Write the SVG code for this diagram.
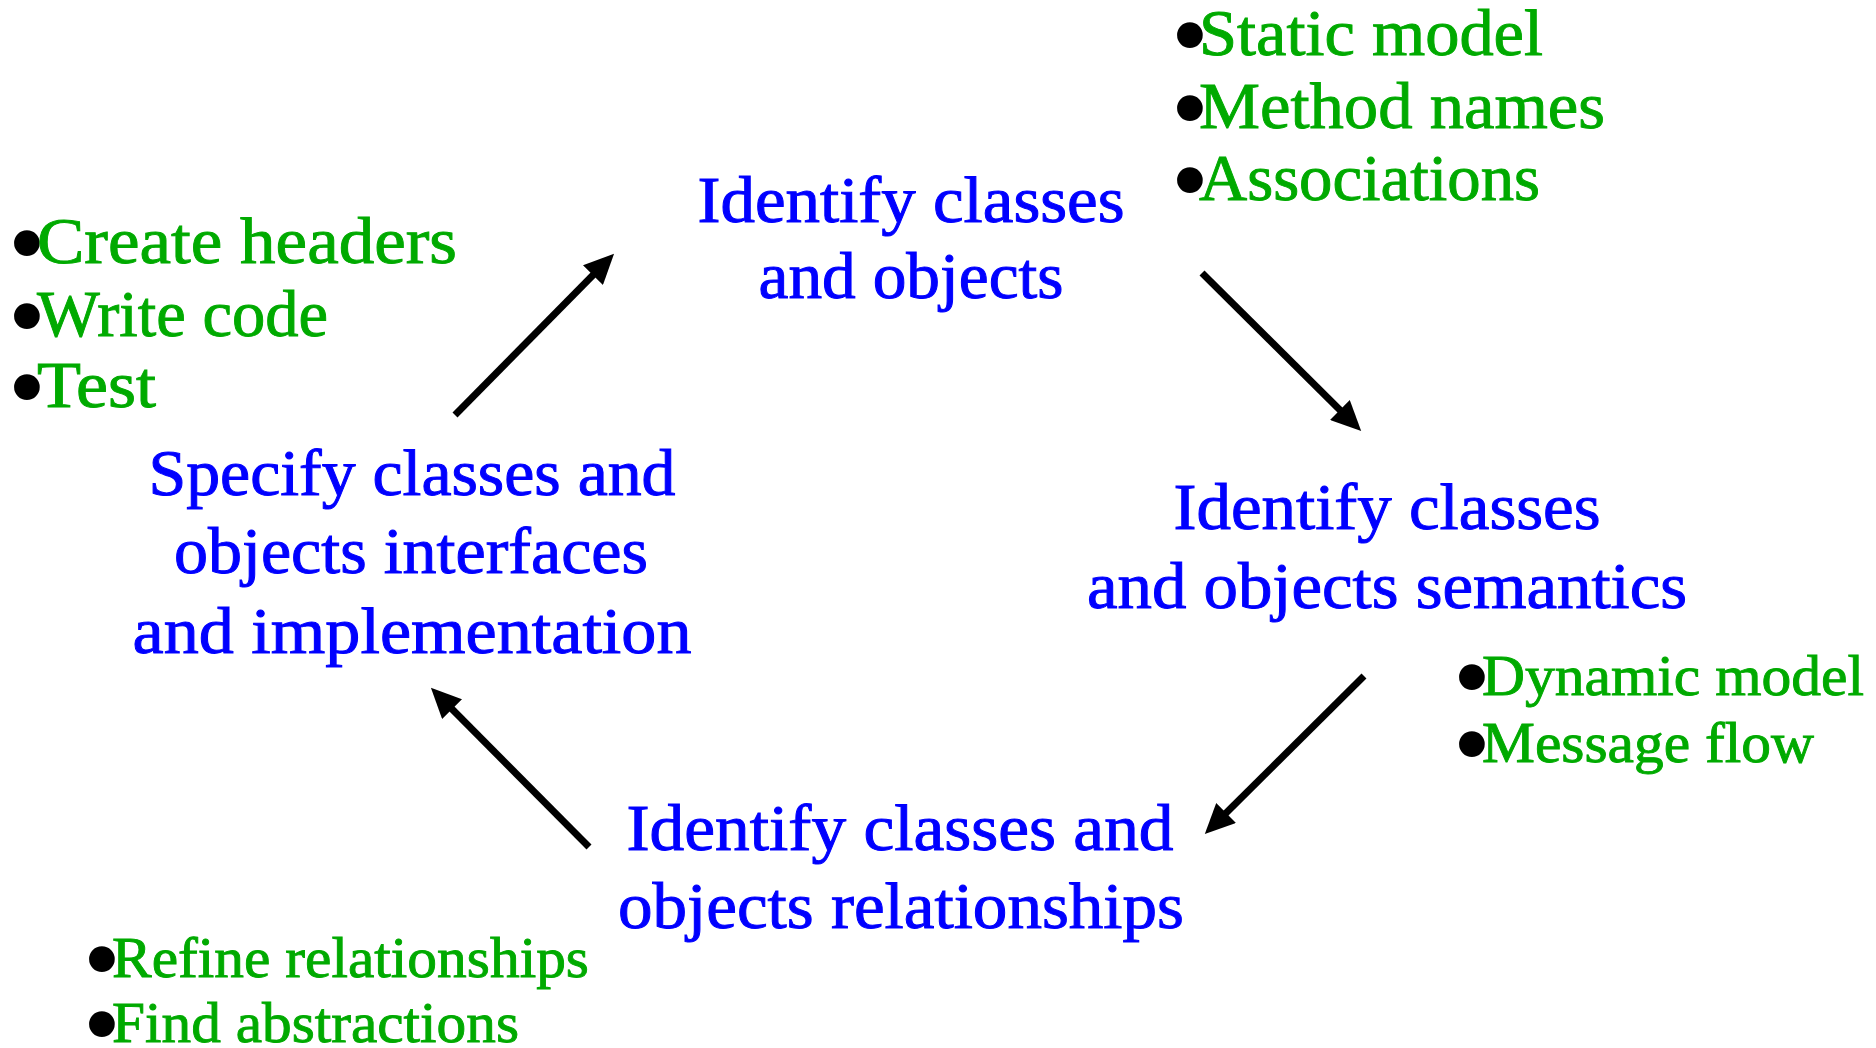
<svg xmlns="http://www.w3.org/2000/svg" width="1876" height="1048" viewBox="0 0 1876 1048">
<style>
.blue{font-family:"Liberation Serif","Times New Roman",serif;font-size:66px;fill:#0000ff;stroke:#0000ff;stroke-width:1;text-anchor:middle}
.green{font-family:"Liberation Serif","Times New Roman",serif;fill:#00aa00;stroke:#00aa00;stroke-width:0.9}
.g1{font-size:65px}
.g2{font-size:58px}
.bul{font-family:"Liberation Serif","Times New Roman",serif;fill:#000000;font-size:108px;text-anchor:middle}
.conn{stroke:#000000;stroke-width:7;fill:none;marker-end:url(#ah)}
</style>
<defs>
<marker id="ah" viewBox="0 0 30 28" refX="10" refY="14" markerWidth="30" markerHeight="28" markerUnits="userSpaceOnUse" orient="auto">
<path d="M0,0 L30,14 L0,28 z" fill="#000000"/>
</marker>
</defs>
<rect width="1876" height="1048" fill="#ffffff"/>
<g id="node-identify">
<text class="blue" x="911" y="222" textLength="427" lengthAdjust="spacingAndGlyphs">Identify classes</text>
<text class="blue" x="911" y="298" textLength="305" lengthAdjust="spacingAndGlyphs">and objects</text>
</g>
<g id="node-semantics">
<text class="blue" x="1387" y="529" textLength="427" lengthAdjust="spacingAndGlyphs">Identify classes</text>
<text class="blue" x="1387" y="608" textLength="600" lengthAdjust="spacingAndGlyphs">and objects semantics</text>
</g>
<g id="node-relationships">
<text class="blue" x="900" y="850" textLength="547" lengthAdjust="spacingAndGlyphs">Identify classes and</text>
<text class="blue" x="901" y="928" textLength="566" lengthAdjust="spacingAndGlyphs">objects relationships</text>
</g>
<g id="node-specify">
<text class="blue" x="412" y="495" textLength="527" lengthAdjust="spacingAndGlyphs">Specify classes and</text>
<text class="blue" x="411" y="573" textLength="474" lengthAdjust="spacingAndGlyphs">objects interfaces</text>
<text class="blue" x="412" y="653" textLength="559" lengthAdjust="spacingAndGlyphs">and implementation</text>
</g>
<g id="note-static">
<text class="bul" x="1190" y="71">•</text><text class="green g1" x="1199" y="55" textLength="344" lengthAdjust="spacingAndGlyphs">Static model</text>
<text class="bul" x="1190" y="144">•</text><text class="green g1" x="1199" y="128" textLength="406" lengthAdjust="spacingAndGlyphs">Method names</text>
<text class="bul" x="1190" y="216">•</text><text class="green g1" x="1199" y="200" textLength="341" lengthAdjust="spacingAndGlyphs">Associations</text>
</g>
<g id="note-code">
<text class="bul" x="27" y="279">•</text><text class="green g1" x="37" y="263" textLength="420" lengthAdjust="spacingAndGlyphs">Create headers</text>
<text class="bul" x="27" y="352">•</text><text class="green g1" x="37" y="336" textLength="291" lengthAdjust="spacingAndGlyphs">Write code</text>
<text class="bul" x="27" y="423">•</text><text class="green g1" x="37" y="407" textLength="119" lengthAdjust="spacingAndGlyphs">Test</text>
</g>
<g id="note-dynamic">
<text class="bul" x="1472" y="713">•</text><text class="green g2" x="1482" y="695" textLength="382" lengthAdjust="spacingAndGlyphs">Dynamic model</text>
<text class="bul" x="1472" y="780">•</text><text class="green g2" x="1482" y="762" textLength="332" lengthAdjust="spacingAndGlyphs">Message flow</text>
</g>
<g id="note-refine">
<text class="bul" x="102" y="995">•</text><text class="green g2" x="112" y="977" textLength="477" lengthAdjust="spacingAndGlyphs">Refine relationships</text>
<text class="bul" x="102" y="1060">•</text><text class="green g2" x="112" y="1042" textLength="407" lengthAdjust="spacingAndGlyphs">Find abstractions</text>
</g>
<g id="connectors">
<line class="conn" x1="455" y1="415" x2="600" y2="268"/>
<line class="conn" x1="1202" y1="273" x2="1347" y2="417"/>
<line class="conn" x1="1364" y1="676" x2="1219" y2="820"/>
<line class="conn" x1="589" y1="847" x2="445" y2="702"/>
</g>
</svg>
